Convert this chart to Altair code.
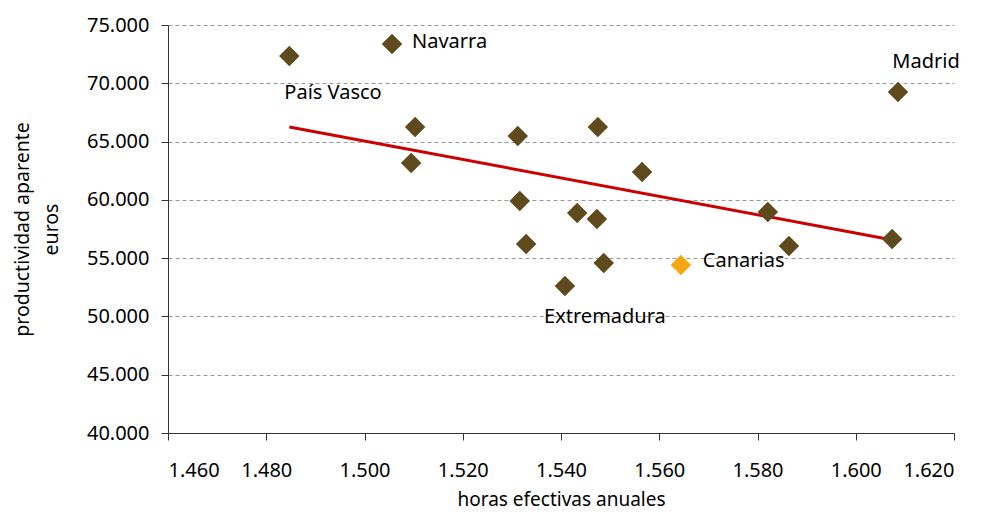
import altair as alt
import pandas as pd

regions = ["País Vasco", "Navarra", "Madrid", "r4", "r5", "r6", "r7", "r8", "r9",
           "r10", "r11", "r12", "Extremadura", "r14", "Canarias", "r16", "r17", "r18"]
horas = [1484.7, 1505.6, 1608.6, 1510.3, 1509.5, 1531.2, 1547.5, 1556.5, 1531.6,
         1543.3, 1547.3, 1532.9, 1540.8, 1548.7, 1564.4, 1582.1, 1586.4, 1607.4]
productividad = [72340, 73370, 69250, 66250, 63160, 65480, 66250, 62390, 59900,
                 58870, 58360, 56210, 52610, 54580, 54410, 58960, 56040, 56640]
grupo = ["resto"] * 14 + ["Canarias"] + ["resto"] * 3

trend_x = [1484.7, 1608.6]
trend_y = [66250, 56470]

x_ticks = [1460, 1480, 1500, 1520, 1540, 1560, 1580, 1600, 1620]
y_ticks = [40000, 45000, 50000, 55000, 60000, 65000, 70000, 75000]

df = pd.DataFrame({"region": regions, "horas": horas, "prod": productividad, "grupo": grupo})
tdf = pd.DataFrame({"horas": trend_x, "prod": trend_y})

FONT = "Noto Sans"
FS = 20
LBL = "replace(datum.label, ',', '.')"

xs = alt.X("horas:Q", scale=alt.Scale(domain=[1460, 1620], nice=False),
           axis=alt.Axis(values=x_ticks, format=",.0f", labelExpr=LBL,
                         title="horas efectivas anuales",
                         grid=False, domainColor="#333", tickColor="#333", tickSize=7,
                         labelFontSize=FS, titleFontSize=19, labelPadding=20, titlePadding=10,
                         labelFont=FONT, titleFont=FONT, titleFontWeight="normal",
                         labelColor="#000", titleColor="#000"))
ys = alt.Y("prod:Q", scale=alt.Scale(domain=[40000, 75000], nice=False),
           axis=alt.Axis(values=y_ticks, format=",.0f", labelExpr=LBL,
                         title=["productividad aparente", "euros"],
                         grid=True, gridDash=[4, 3], gridColor="#999", gridWidth=1,
                         domainColor="#333", tickColor="#333", tickSize=7,
                         labelFontSize=FS, titleFontSize=19.5, labelPadding=12, titlePadding=25,
                         titleLineHeight=29,
                         labelFont=FONT, titleFont=FONT, titleFontWeight="normal",
                         labelColor="#000", titleColor="#000"))

trend = alt.Chart(tdf).mark_line(color="#CC0000", strokeWidth=3).encode(x=xs, y=ys)

points = alt.Chart(df).mark_point(shape="diamond", filled=True, size=420, opacity=1).encode(
    x=xs, y=ys,
    color=alt.Color("grupo:N", scale=alt.Scale(domain=["resto", "Canarias"],
                                               range=["#5E4A1C", "#F5A70F"]), legend=None))

def label(name, dx, dy, align):
    return alt.Chart(df).transform_filter(alt.datum.region == name).mark_text(
        dx=dx, dy=dy, align=align, baseline="middle", fontSize=FS, font=FONT, color="#000"
    ).encode(x="horas:Q", y="prod:Q", text="region:N")

labels = [
    label("Navarra", 20, -2, "left"),
    label("País Vasco", -5, 37, "left"),
    label("Madrid", 28, -30, "center"),
    label("Canarias", 22, -4, "left"),
    label("Extremadura", 40, 31, "center"),
]

chart = alt.layer(trend, points, *labels).properties(
    width=786, height=408,
    autosize=alt.AutoSizeParams(type="none"),
    padding={"left": 160, "top": 17, "right": 20, "bottom": 88},
).configure_view(stroke=None)

chart.save("out.html", embed_options={"renderer": "svg", "actions": False})
